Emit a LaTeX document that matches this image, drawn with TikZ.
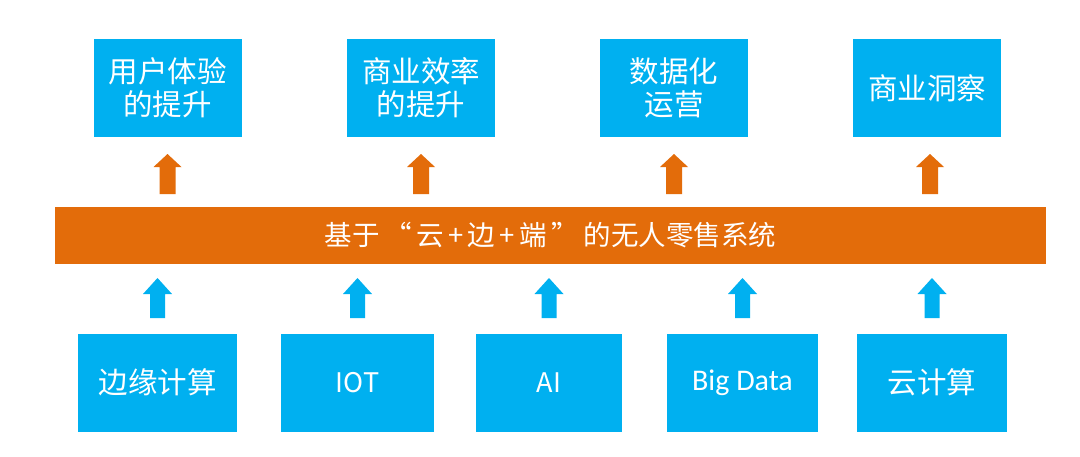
\documentclass[tikz,border=0pt]{standalone}
\usepackage{fontspec}
\newfontfamily\cjk{Noto Sans CJK SC}
\newfontfamily\lat{Carlito}
\definecolor{boxblue}{HTML}{00B0F0}
\definecolor{barorange}{HTML}{E36C0A}
\newcommand\gp{\hspace{4.5pt}}
\tikzset{
  topbox/.style={fill=boxblue, minimum width=148pt, minimum height=98pt, inner sep=0pt,
    text=white, align=center, font=\cjk\fontsize{29.5}{33}\selectfont},
  botbox/.style={fill=boxblue, minimum height=98pt, inner sep=0pt,
    text=white, align=center, font=\cjk\fontsize{29.5}{33}\selectfont},
  bar/.style={fill=barorange, minimum width=991pt, minimum height=57pt, inner sep=0pt,
    text=white, font=\cjk\fontsize{27.5}{30}\selectfont},
  orangeup/.pic={\fill[barorange] (0,0) -- (-14,13) -- (-8,13) -- (-8,40) -- (8,40) -- (8,13) -- (14,13) -- cycle;},
  blueup/.pic={\fill[boxblue] (0,0) -- (-14.5,16) -- (-7.5,16) -- (-7.5,40) -- (7.5,40) -- (7.5,16) -- (14.5,16) -- cycle;}
}
\begin{document}
\begin{tikzpicture}[x=1pt,y=-1pt]
\useasboundingbox[fill=white] (0,0) rectangle (1080,456);
% top boxes
\node[topbox] (t1) at (167.5,88) {用户体验\\的提升};
\node[topbox] (t2) at (421,88) {商业效率\\的提升};
\node[topbox] (t3) at (674,88) {数据化\\运营};
\node[topbox] (t4) at (927,88) {商业洞察};
% bar
\node[bar] (bar) at (550.5,235.5) {基于\gp“\gp 云\gp+\gp 边\gp+\gp 端\gp”\gp 的无人零售系统};
% bottom boxes
\node[botbox, minimum width=159pt] (b1) at (157.5,382.5) {边缘计算};
\node[botbox, minimum width=153pt, font=\cjk\fontsize{27}{30}\selectfont] (b2) at (357.5,382.5) {IOT};
\node[botbox, minimum width=146pt, font=\cjk\fontsize{27}{30}\selectfont] (b3) at (549,382.5) {AI};
\node[botbox, minimum width=151pt, font=\lat\fontsize{30}{33}\selectfont] (b4) at (742.5,382.5) {Big Data};
\node[botbox, minimum width=150pt] (b5) at (932,382.5) {云计算};
% orange arrows (bar -> top boxes)
\coordinate (otip) at (0,154);
\pic at (t1.south |- otip) {orangeup};
\pic at (t2.south |- otip) {orangeup};
\pic at (t3.south |- otip) {orangeup};
\pic at ([xshift=3pt]t4.south |- otip) {orangeup};
% blue arrows (bottom boxes -> bar)
\coordinate (btip) at (0,278);
\pic at (b1.north |- btip) {blueup};
\pic at (b2.north |- btip) {blueup};
\pic at (b3.north |- btip) {blueup};
\pic at (b4.north |- btip) {blueup};
\pic at (b5.north |- btip) {blueup};
\end{tikzpicture}
\end{document}
